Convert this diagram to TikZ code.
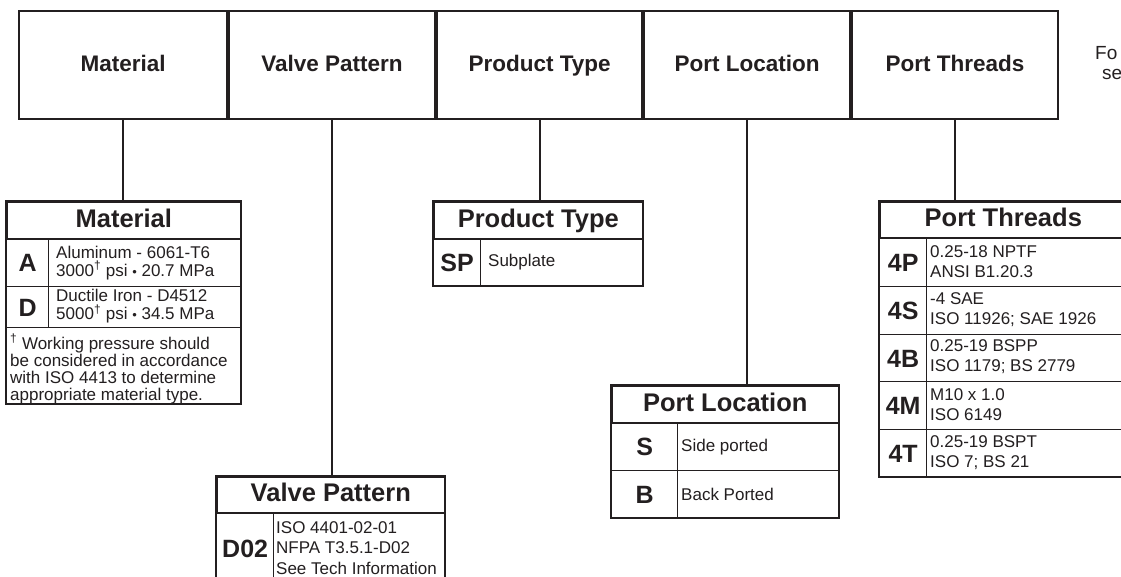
\documentclass[tikz,border=0pt]{standalone}
\usepackage{fontspec}
\setmainfont{Liberation Sans}
\definecolor{ink}{HTML}{231F20}
\begin{document}
\begin{tikzpicture}[x=1pt,y=-1pt,
  every node/.style={text=ink},
  topbox/.style={draw=ink, line width=2.2pt, inner sep=0pt, anchor=north west,
    minimum height=108pt, text height=16.5pt, text depth=4.5pt,
    font=\fontsize{22.5}{27}\selectfont\bfseries},
  titlebox/.style={draw=ink, line width=1.6pt, inner sep=0pt, anchor=north west,
    text height=18.5pt, text depth=5pt,
    font=\fontsize{25.5}{30}\selectfont\bfseries},
  cell/.style={draw=ink, line width=1.3pt, inner sep=0pt, anchor=north west},
  codecell/.style={cell, text height=18pt, text depth=0pt, font=\fontsize{25}{30}\selectfont\bfseries},
  desc/.style={anchor=west, inner sep=0pt, align=left, font=\fontsize{17}{18}\selectfont},
  descw/.style={anchor=west, inner sep=0pt, align=left, font=\fontsize{17}{20}\selectfont},
  outer/.style={draw=ink, line width=2.2pt},
  conn/.style={draw=ink, line width=1.8pt}
]
\useasboundingbox (0,0) rectangle (1121,577);
\clip (0,0) rectangle (1121,577);
\fill[white] (0,0) rectangle (1121,577);

% top boxes
\node[topbox, minimum width=208pt] (t1) at (18,10) {Material};
\node[topbox, minimum width=206pt] (t2) at (228,10) {Valve Pattern};
\node[topbox, minimum width=205pt] (t3) at (436,10) {Product Type};
\node[topbox, minimum width=206pt] (t4) at (643,10) {Port Location};
\node[topbox, minimum width=206pt] (t5) at (851,10) {Port Threads};
\node[anchor=west, inner sep=0pt, font=\fontsize{19}{19}\selectfont] (fo) at (1095,53) {Fo};
\node[anchor=west, inner sep=0pt, font=\fontsize{19}{19}\selectfont] (se) at (1102,74) {se};

% Material table
\node[titlebox, minimum width=234pt, minimum height=37pt] (mt) at (6,201) {Material};
\node[codecell, minimum width=42pt, minimum height=48pt] (mA) at (6,238) {A};
\node[cell, minimum width=192pt, minimum height=48pt] (mAd) at (48,238) {};
\node[codecell, minimum width=42pt, minimum height=41pt] (mD) at (6,286) {D};
\node[cell, minimum width=192pt, minimum height=41pt] (mDd) at (48,286) {};
\node[cell, minimum width=234pt, minimum height=76pt] (mf) at (6,327) {};
\node[desc] (mAt) at ([xshift=8pt]mAd.west) {Aluminum - 6061-T6\\3000\textsuperscript{†} psi {\fontsize{13}{13}\selectfont•} 20.7 MPa};
\node[desc] (mDt) at ([xshift=8pt,yshift=1pt]mDd.west) {Ductile Iron - D4512\\5000\textsuperscript{†} psi {\fontsize{13}{13}\selectfont•} 34.5 MPa};
\node[desc, anchor=north west, font=\fontsize{17}{17}\selectfont] (mft) at (10,334) {\textsuperscript{†} Working pressure should\\be considered in accordance\\with ISO 4413 to determine\\appropriate material type.};
\draw[outer] (mt.north west) rectangle (mf.south east);

% Valve Pattern table
\node[titlebox, minimum width=228pt, minimum height=36pt] (vt) at (216,476) {Valve Pattern};
\node[codecell, minimum width=57pt, minimum height=72pt] (vD) at (216,512) {D02};
\node[cell, minimum width=171pt, minimum height=90pt] (vDd) at (273,512) {};
\node[desc, anchor=north west, font=\fontsize{17}{20.5}\selectfont] (vDt) at (276,521) {ISO 4401-02-01\\NFPA T3.5.1-D02\\See Tech Information};
\draw[outer] (vt.north west) rectangle (vDd.south east);

% Product Type table
\node[titlebox, minimum width=209pt, minimum height=37pt] (pt) at (433,201) {Product Type};
\node[codecell, minimum width=47pt, minimum height=47pt] (pSP) at (433,238) {SP};
\node[cell, minimum width=162pt, minimum height=47pt] (pSPd) at (480,238) {};
\node[desc] (pSPt) at ([xshift=8pt]pSPd.west) {Subplate};
\draw[outer] (pt.north west) rectangle (pSPd.south east);

% Port Location table
\node[titlebox, minimum width=227pt, minimum height=37pt] (lt) at (611,385) {Port Location};
\node[codecell, minimum width=66pt, minimum height=48pt] (lS) at (611,422) {S};
\node[cell, minimum width=161pt, minimum height=48pt] (lSd) at (677,422) {};
\node[codecell, minimum width=66pt, minimum height=47pt] (lB) at (611,470) {B};
\node[cell, minimum width=161pt, minimum height=47pt] (lBd) at (677,470) {};
\node[desc] (lSt) at ([xshift=4pt]lSd.west) {Side ported};
\node[desc] (lBt) at ([xshift=4pt]lBd.west) {Back Ported};
\draw[outer] (lt.north west) rectangle (lBd.south east);

% Port Threads table
\node[titlebox, minimum width=247pt, minimum height=36pt] (tt) at (879,201) {Port Threads};
\node[codecell, minimum width=47pt, minimum height=49pt] (t4P) at (879,237) {4P};
\node[cell, minimum width=200pt, minimum height=49pt] (t4Pd) at (926,237) {};
\node[codecell, minimum width=47pt, minimum height=48pt] (t4S) at (879,286) {4S};
\node[cell, minimum width=200pt, minimum height=48pt] (t4Sd) at (926,286) {};
\node[codecell, minimum width=47pt, minimum height=47pt] (t4B) at (879,334) {4B};
\node[cell, minimum width=200pt, minimum height=47pt] (t4Bd) at (926,334) {};
\node[codecell, minimum width=47pt, minimum height=48pt] (t4M) at (879,381) {4M};
\node[cell, minimum width=200pt, minimum height=48pt] (t4Md) at (926,381) {};
\node[codecell, minimum width=47pt, minimum height=47pt] (t4T) at (879,429) {4T};
\node[cell, minimum width=200pt, minimum height=47pt] (t4Td) at (926,429) {};
\node[descw] (t4Pt) at ([xshift=4pt,yshift=1pt]t4Pd.west) {0.25-18 NPTF\\ANSI B1.20.3};
\node[descw] (t4St) at ([xshift=4pt,yshift=1pt]t4Sd.west) {-4 SAE\\ISO 11926; SAE 1926};
\node[descw] (t4Bt) at ([xshift=4pt,yshift=1pt]t4Bd.west) {0.25-19 BSPP\\ISO 1179; BS 2779};
\node[descw] (t4Mt) at ([xshift=4pt,yshift=1pt]t4Md.west) {M10 x 1.0\\ISO 6149};
\node[descw] (t4Tt) at ([xshift=4pt,yshift=1pt]t4Td.west) {0.25-19 BSPT\\ISO 7; BS 21};
\draw[outer] (tt.north west) rectangle (t4Td.south east);

% connectors
\draw[conn] (t1.south) -- (t1.south |- mt.north);
\draw[conn] (t2.south) -- (t2.south |- vt.north);
\draw[conn] (t3.south) -- (t3.south |- pt.north);
\draw[conn] (t4.south) -- (t4.south |- lt.north);
\draw[conn] (t5.south) -- (t5.south |- tt.north);
\end{tikzpicture}
\end{document}
